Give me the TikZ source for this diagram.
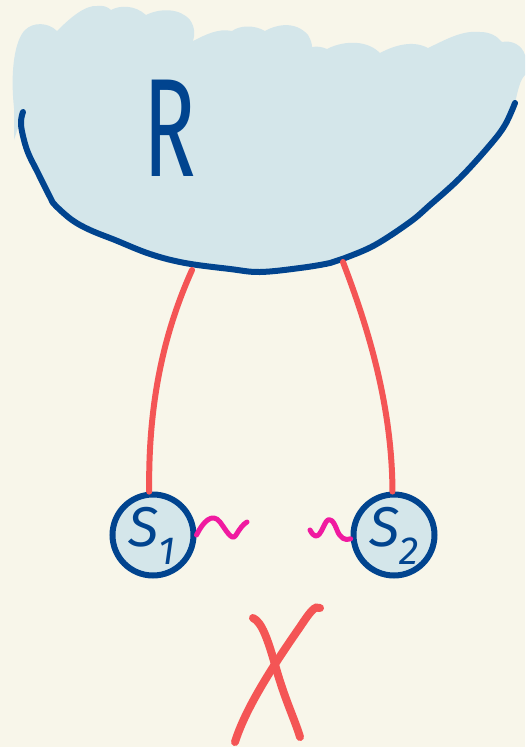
\documentclass[tikz,border=0pt]{standalone}
\usepackage{fontspec}
\setmainfont{Fira Sans}
\definecolor{bgc}{HTML}{F8F6EA}
\definecolor{cloudc}{HTML}{D4E6EA}
\definecolor{inkb}{HTML}{01448F}
\definecolor{inkr}{HTML}{F45555}
\definecolor{inkm}{HTML}{F01AA0}
\begin{document}
\begin{tikzpicture}[x=1pt,y=-1pt,
  bluestroke/.style={draw=inkb,line width=6pt,line cap=round,line join=round},
  redstroke/.style={draw=inkr,line width=6pt,line cap=round},
  magstroke/.style={draw=inkm,line width=5pt,line cap=round,line join=round},
  xstroke/.style={draw=inkr,line width=8pt,line cap=round},
  sbubble/.style={circle,minimum size=81pt,inner sep=0pt,fill=cloudc,draw=inkb,line width=6pt},
  slabel/.style={text=inkb,font=\fontsize{56}{56}\selectfont\itshape,inner sep=0pt}]
\fill[bgc] (0,0) rectangle (525,747);
\useasboundingbox (0,0) rectangle (525,747);
% cloud fill
\fill[cloudc] (14,108) .. controls (10,70) and (15,40) .. (25,30)
 .. controls (33,22) and (48,22) .. (57,31)
 .. controls (70,18) and (85,5) .. (97,6)
 .. controls (103,5) and (108,7) .. (111,10)
 .. controls (120,5) and (135,5) .. (146,15)
 .. controls (160,8) and (180,8) .. (190,20)
 .. controls (195,27) and (195,35) .. (193,41)
 .. controls (205,35) and (218,28) .. (232,31)
 .. controls (240,25) and (255,25) .. (265,31)
 .. controls (275,25) and (295,20) .. (308,35)
 .. controls (311,40) and (312,44) .. (312,47)
 .. controls (318,46) and (322,47) .. (327,49)
 .. controls (340,42) and (365,38) .. (380,53)
 .. controls (395,45) and (413,40) .. (428,48)
 .. controls (445,40) and (462,30) .. (480,32)
 .. controls (490,32) and (497,36) .. (502,42)
 .. controls (512,40) and (522,45) .. (525,55)
 -- (525,75) .. controls (520,80) and (518,90) .. (515,103)
 -- plot[smooth,tension=0.6] coordinates {(515,103) (505,125) (490,145) (460,178) (430,205) (410,222) (375,245) (345,258) (330,263) (300,268) (260,272) (230,269) (185,263) (150,254) (115,240) (90,230) (72,220) (55,205) (50,197) (38,173) (27,150) (21,125) (23,112)}
 -- (14,140) -- cycle;
% cloud bottom stroke
\draw[bluestroke] plot[smooth,tension=0.6] coordinates {(23,112) (21,125) (27,150) (38,173) (50,197) (55,205) (72,220) (90,230) (115,240) (150,254) (185,263) (230,269) (260,272) (300,268) (330,263) (345,258) (375,245) (410,222) (430,205) (460,178) (490,145) (505,125) (515,103)};
\node[text=inkb,font=\fontsize{140}{140}\selectfont,xscale=0.62,inner sep=0pt] (r) at (170,128) {R};
\coordinate (c1) at (192,270);
\coordinate (c2) at (343,262);
% satellites
\node[sbubble] (s1) at (153,535) {};
\node[sbubble] (s2) at (394,535) {};
% red links
\draw[redstroke] (c1) .. controls (165,330) and (148,400) .. (s1.95);
\draw[redstroke] (c2) .. controls (365,320) and (392,400) .. (s2.92);
\node[slabel] (s1t) at (152,536) {S\textsubscript{1}};
\node[slabel] (s2t) at (394,536) {S\textsubscript{2}};
% squiggles
\draw[magstroke] (s1.0) .. controls (203,522) and (212,512) .. (220,522)
 .. controls (226,530) and (232,542) .. (236,535)
 .. controls (239,530) and (243,524) .. (247,522);
\draw[magstroke] (s2.185) .. controls (345,541) and (340,538) .. (337,530)
 .. controls (334,522) and (330,516) .. (326,522)
 .. controls (322,528) and (318,545) .. (310,530);
% X
\coordinate (x1a) at (253,618);
\coordinate (x1b) at (300,737);
\coordinate (x2a) at (320,608);
\coordinate (x2b) at (235,742);
\draw[xstroke] (x1a) .. controls (262,622) and (268,640) .. (276,668) .. controls (285,700) and (295,720) .. (x1b);
\draw[xstroke] (x2a) .. controls (315,605) and (310,612) .. (300,627) .. controls (270,670) and (245,710) .. (x2b);
\end{tikzpicture}
\end{document}
